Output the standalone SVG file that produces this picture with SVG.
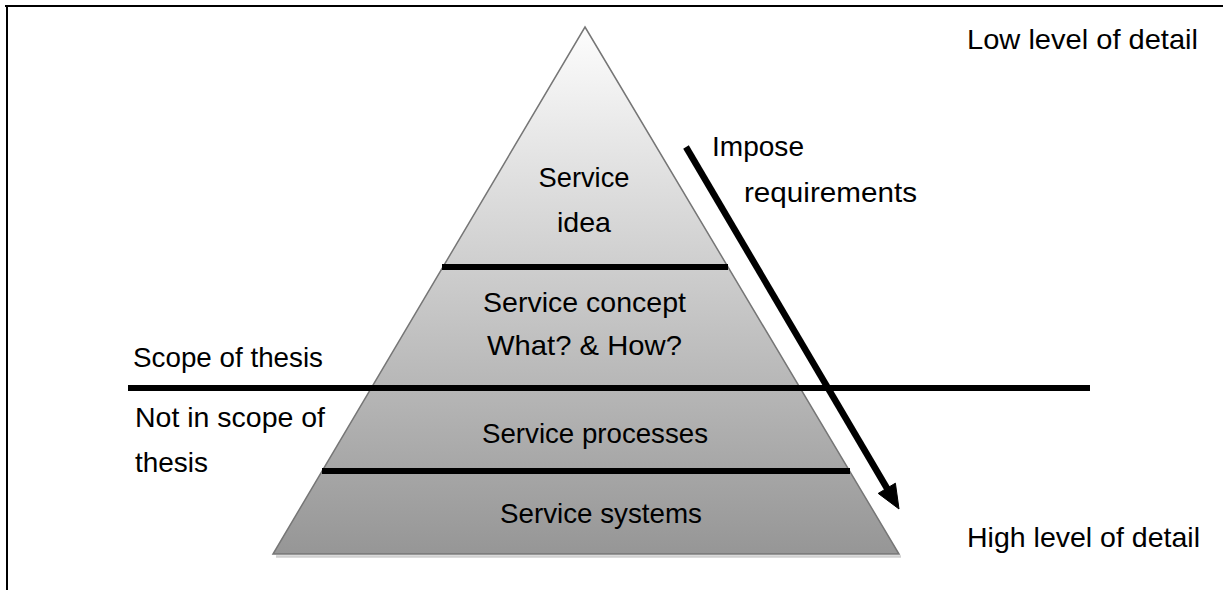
<svg xmlns="http://www.w3.org/2000/svg" width="1223" height="590" viewBox="0 0 1223 590">
  <defs>
    <linearGradient id="pyrGrad" gradientUnits="userSpaceOnUse" x1="0" y1="27" x2="0" y2="554">
      <stop offset="0" stop-color="#fdfdfd"/>
      <stop offset="1" stop-color="#969696"/>
    </linearGradient>
    <style>
      .t { font-family: "Liberation Sans", Arial, sans-serif; font-size: 28px; fill: #000; }
      .sep { stroke: #000; stroke-width: 6; fill: none; }
      .frame { stroke: #000; stroke-width: 2; fill: none; }
    </style>
  </defs>
  <rect x="0" y="0" width="1223" height="590" fill="#fff"/>

  <g id="frame">
    <line class="frame" x1="5" y1="6" x2="1223" y2="6"/>
    <line class="frame" x1="7" y1="5" x2="7" y2="590"/>
  </g>

  <g id="pyramid">
    <line x1="276" y1="556.5" x2="901" y2="556.5" stroke="#cfcfcf" stroke-width="2.5"/>
    <polygon points="585,27 899,554 273,554" fill="url(#pyrGrad)" stroke="#767676" stroke-width="1.5"/>
  </g>

  <g id="layer-idea">
    <text class="t" x="584" y="187" text-anchor="middle" textLength="91" lengthAdjust="spacingAndGlyphs">Service</text>
    <text class="t" x="584" y="232" text-anchor="middle" textLength="54" lengthAdjust="spacingAndGlyphs">idea</text>
  </g>
  <g id="layer-concept">
    <text class="t" x="483" y="312" textLength="203" lengthAdjust="spacingAndGlyphs">Service concept</text>
    <text class="t" x="487" y="355" textLength="195" lengthAdjust="spacingAndGlyphs">What? &amp; How?</text>
  </g>
  <g id="layer-processes">
    <text class="t" x="482" y="443" textLength="226" lengthAdjust="spacingAndGlyphs">Service processes</text>
  </g>
  <g id="layer-systems">
    <text class="t" x="500" y="523" textLength="202" lengthAdjust="spacingAndGlyphs">Service systems</text>
  </g>

  <g id="connectors">
    <line class="sep" x1="442" y1="267" x2="728" y2="267"/>
    <line class="sep" x1="322" y1="471" x2="850" y2="471"/>
    <line class="sep" x1="128" y1="388" x2="1090" y2="388" stroke-width="7"/>
    <line x1="686" y1="147" x2="888" y2="490" stroke="#000" stroke-width="6.5"/>
    <polygon points="899,509 895.4,483.2 878.2,493.4" fill="#000" stroke="#000" stroke-width="1"/>
  </g>

  <g id="labels">
    <text class="t" x="967" y="49" textLength="231" lengthAdjust="spacingAndGlyphs">Low level of detail</text>
    <text class="t" x="712" y="156" textLength="92" lengthAdjust="spacingAndGlyphs">Impose</text>
    <text class="t" x="744" y="202" textLength="173" lengthAdjust="spacingAndGlyphs">requirements</text>
    <text class="t" x="133" y="367" textLength="190" lengthAdjust="spacingAndGlyphs">Scope of thesis</text>
    <text class="t" x="135" y="427" textLength="190" lengthAdjust="spacingAndGlyphs">Not in scope of</text>
    <text class="t" x="135" y="472" textLength="73" lengthAdjust="spacingAndGlyphs">thesis</text>
    <text class="t" x="967" y="547" textLength="233" lengthAdjust="spacingAndGlyphs">High level of detail</text>
  </g>
</svg>
